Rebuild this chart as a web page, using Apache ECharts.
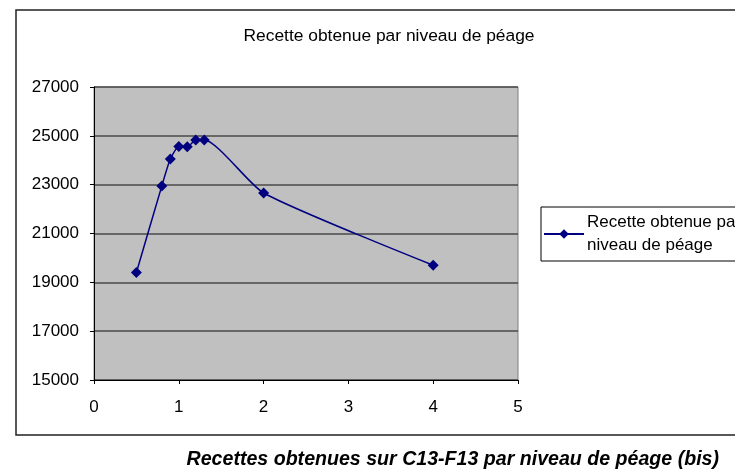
<!DOCTYPE html>
<html>
<head>
    <meta charset="UTF-8">
    <title>Recette obtenue par niveau de péage</title>
    <script src="https://cdn.jsdelivr.net/npm/echarts@6/dist/echarts.min.js"></script>
    <style>
        html, body { margin: 0; padding: 0; background: #fff; }
    </style>
</head>
<body>

<div id="container" style="width:735px; height:470px;"></div>

<script>
    // niveaux de péage et recettes
    var peage = [0.5, 0.8, 0.9, 1.0, 1.1, 1.2, 1.3, 2, 4];
    var recette = [19400, 22950, 24050, 24560, 24550, 24830, 24830, 22660, 19700];
    var xTicks = [0, 1, 2, 3, 4, 5];
    var yTicks = [15000, 17000, 19000, 21000, 23000, 25000, 27000];

    var serieNom = 'Recette obtenue par niveau de péage';
    var points = [];
    for (var i in peage) {
        points.push([peage[i], recette[i]]);
    }

    var chart_container = echarts.init(
        document.getElementById('container'), null, {renderer: 'canvas'});

    var option_container = {
        animation: false,
        backgroundColor: '#ffffff',
        textStyle: { fontFamily: 'Liberation Sans, Arial, sans-serif' },
        title: [
            {
                text: 'Recette obtenue par niveau de péage',
                left: 384, top: 23, textAlign: 'center',
                textStyle: { fontSize: 17.4, fontWeight: 'normal', color: '#000' }
            },
            {
                text: 'Recettes obtenues sur C13-F13 par niveau de péage (bis)',
                left: 714, top: 445, textAlign: 'right',
                textStyle: { fontSize: 19.6, fontWeight: 'bold', fontStyle: 'italic', color: '#000' }
            }
        ],
        // cadre extérieur
        graphic: [
            {
                type: 'rect', z: -1,
                shape: { x: 16, y: 10, width: 800, height: 425 },
                style: { fill: 'none', stroke: '#222', lineWidth: 1.5 }
            }
        ],
        grid: {
            left: 94, top: 87, width: 424, height: 293,
            show: true, backgroundColor: '#c0c0c0',
            borderColor: '#808080', borderWidth: 1
        },
        legend: {
            left: 541, top: 207,
            padding: [4, 60, 4, 2],
            borderColor: '#000', borderWidth: 1,
            itemWidth: 40, itemHeight: 12, itemGap: 0,
            formatter: function () { return 'Recette obtenue par\nniveau de péage'; },
            textStyle: { fontSize: 17, color: '#000', lineHeight: 23, padding: [0, 0, 0, -2] },
            data: [serieNom]
        },
        xAxis: {
            type: 'value', min: 0, max: 5, interval: 1,
            axisLine: { show: true, lineStyle: { color: '#000', width: 1 } },
            axisTick: { show: true, length: 4, lineStyle: { color: '#000' } },
            axisLabel: { fontSize: 17, color: '#000', margin: 19,
                formatter: function (v) { return xTicks.indexOf(v) >= 0 ? String(v) : ''; } },
            splitLine: { show: false }
        },
        yAxis: {
            type: 'value', min: 15000, max: 27000, interval: 2000,
            axisLine: { show: true, lineStyle: { color: '#000', width: 1 } },
            axisTick: { show: true, length: 4, lineStyle: { color: '#000' } },
            axisLabel: { fontSize: 17, color: '#000', margin: 15,
                formatter: function (v) { return yTicks.indexOf(v) >= 0 ? String(v) : ''; } },
            splitLine: { show: true, lineStyle: { color: '#4a4a4a', width: 1.5 } }
        },
        series: [
            {
                name: serieNom,
                type: 'line',
                data: points,
                smooth: 0.2,
                symbol: 'diamond',
                symbolSize: 11,
                itemStyle: { color: '#000080' },
                lineStyle: { color: '#000080', width: 1.5 }
            }
        ]
    };
    chart_container.setOption(option_container);
</script>
</body>
</html>
